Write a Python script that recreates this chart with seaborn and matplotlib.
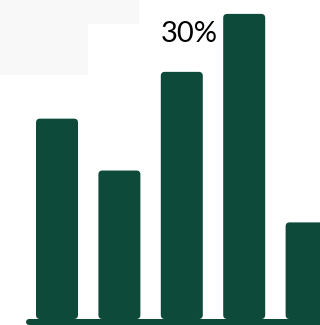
import matplotlib
matplotlib.use("Agg")
import matplotlib.pyplot as plt
from matplotlib.patches import FancyBboxPatch, Rectangle
import seaborn as sns
import pandas as pd

categories = ["A", "B", "C", "D", "E"]
values = [19.7, 14.6, 24.3, 30.0, 9.5]
label_text = "30%"

BAR = "#0e4a3a"
df = pd.DataFrame({"cat": categories, "val": values})

sns.set_style("white")
plt.rcParams["font.family"] = ["Lato", "DejaVu Sans"]

fig = plt.figure(figsize=(3.2, 3.25), dpi=100)
W, H = 320, 325
# light background blocks
fig.patches.append(Rectangle((0, 1 - 24 / H), 139 / W, 24 / H, transform=fig.transFigure,
                             facecolor="#f8f8f8", edgecolor="none", zorder=0))
fig.patches.append(Rectangle((0, 1 - 75 / H), 88 / W, 51 / H, transform=fig.transFigure,
                             facecolor="#f8f8f8", edgecolor="none", zorder=0))

ax = fig.add_axes([0, 0, 1, 1])
ax.set_facecolor("none")
sns.barplot(data=df, x="cat", y="val", color=BAR, width=0.673, ax=ax, saturation=1)

xunit, yunit = 62.4, 10.17
ax.set_xlim(-57 / xunit, (320 - 57) / xunit)
ax.set_ylim(-6 / yunit, 319 / yunit)

r = 4 / xunit
for p in list(ax.patches):
    x, y = p.get_x(), p.get_y()
    w, h = p.get_width(), p.get_height()
    p.set_visible(False)
    ax.add_patch(FancyBboxPatch((x, y), w, h,
                                boxstyle=f"round,pad=0,rounding_size={r}",
                                mutation_aspect=xunit / yunit,
                                facecolor=BAR, edgecolor="none", zorder=3))

ax.plot([(26 + 3 - 57) / xunit, (330 - 57) / xunit], [-3 / yunit, -3 / yunit],
        color=BAR, linewidth=6 * 0.72, solid_capstyle="round", zorder=4)

ax.text(2.12, 28.0, label_text, ha="center", va="center", fontsize=21,
        color="#000000", zorder=5)

ax.set_axis_off()
fig.savefig("out.png", dpi=100)
